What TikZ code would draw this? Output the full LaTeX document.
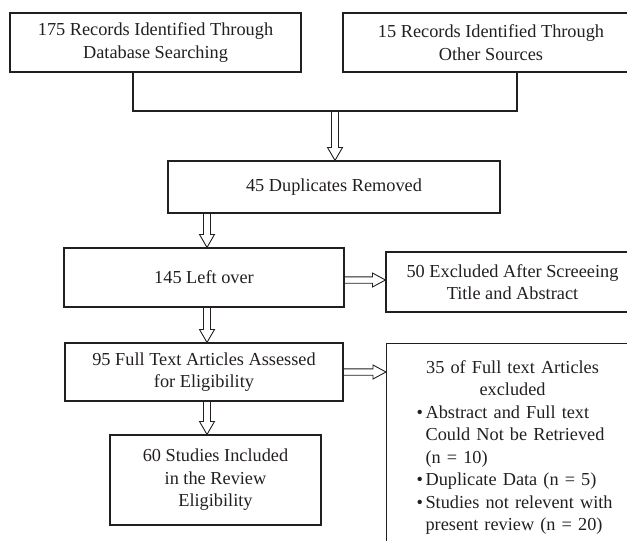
\documentclass[tikz,border=0pt]{standalone}
\usepackage{fontspec}
\setmainfont{Liberation Serif}
\usetikzlibrary{calc}
\definecolor{ink}{RGB}{35,31,32}
% hollow downward arrow between two points
\newcommand{\vdarrow}[2]{%
  \draw[harrow] let \p1=(#1), \p2=(#2) in
    (\x1-3.5pt,\y1) -- (\x1-3.5pt,\y2+13pt) -- (\x1-7.5pt,\y2+13pt) -- (\x1,\y2)
    -- (\x1+7.5pt,\y2+13pt) -- (\x1+3.5pt,\y2+13pt) -- (\x1+3.5pt,\y1);}
% hollow rightward arrow between two points
\newcommand{\hrarrow}[2]{%
  \draw[harrow] let \p1=(#1), \p2=(#2) in
    (\x1,\y1+3.2pt) -- (\x2-13pt,\y1+3.2pt) -- (\x2-13pt,\y1+7pt) -- (\x2,\y1)
    -- (\x2-13pt,\y1-7pt) -- (\x2-13pt,\y1-3.2pt) -- (\x1,\y1-3.2pt);}
\newcommand{\bitem}{\hangindent=9pt\hangafter=1\noindent\makebox[9pt][l]{\textbullet}}
\begin{document}
\begin{tikzpicture}[x=1pt,y=-1pt,
  font=\fontsize{18.3}{22.5}\selectfont,
  box/.style={draw=ink, line width=1.1pt, text=ink, rectangle, inner sep=0pt, align=center},
  harrow/.style={draw=ink, line width=0.9pt, line join=miter},
  link/.style={draw=ink, line width=1.1pt}]
\useasboundingbox (0,0) rectangle (627,541);
\clip (0,0) rectangle (627,541);

\node[box, minimum width=291pt, minimum height=59pt] (b1) at (155.5,42.5)
  {175 Records Identified Through\\Database Searching};
\node[box, minimum width=296pt, minimum height=59pt] (b2) at (491,42.5)
  {15 Records Identified Through\\Other Sources};
\node[box, minimum width=332pt, minimum height=52pt] (b3) at (334,187)
  {45 Duplicates Removed};
\node[box, minimum width=280pt, minimum height=59pt] (b4) at (204,277.5)
  {145 Left over};
\node[box, minimum width=253pt, minimum height=60pt] (b5) at (512.5,282)
  {50 Excluded After Screeeing\\Title and Abstract};
\node[box, minimum width=278pt, minimum height=58pt] (b6) at (204,372)
  {95 Full Text Articles Assessed\\for Eligibility};
\node[box, minimum width=211pt, minimum height=90pt] (b7) at (215.5,480)
  {60 Studies Included\\in the Review\\Eligibility};
\node[box, anchor=north west, align=left, text width=215pt, inner xsep=30pt, inner ysep=0pt,
      minimum height=208pt] (b8) at (386,343)
  {\noindent\makebox[192pt]{35 of Full text Articles}\newline\makebox[192pt]{excluded}\par
   \bitem Abstract and Full text\newline Could Not be Retrieved\newline (n = 10)\par
   \bitem Duplicate Data (n = 5)\par
   \bitem Studies not relevent with\newline present review (n = 20)\par};

% join of the two sources
\coordinate (j1) at (133,111);
\coordinate (j2) at (517,111);
\coordinate (m) at (335,111);
\coordinate (colx) at (207,0);
\coordinate (h1) at (0,280);
\coordinate (h2) at (0,372);
\draw[link] (b1.south -| j1) -- (j1) -- (j2) -- (b2.south -| j2);

\vdarrow{m}{b3.north -| m}
\vdarrow{b3.south -| colx}{b4.north -| colx}
\vdarrow{b4.south -| colx}{b6.north -| colx}
\vdarrow{b6.south -| colx}{b7.north -| colx}
\hrarrow{b4.east |- h1}{b5.west |- h1}
\hrarrow{b6.east |- h2}{b8.west |- h2}
\end{tikzpicture}
\end{document}
